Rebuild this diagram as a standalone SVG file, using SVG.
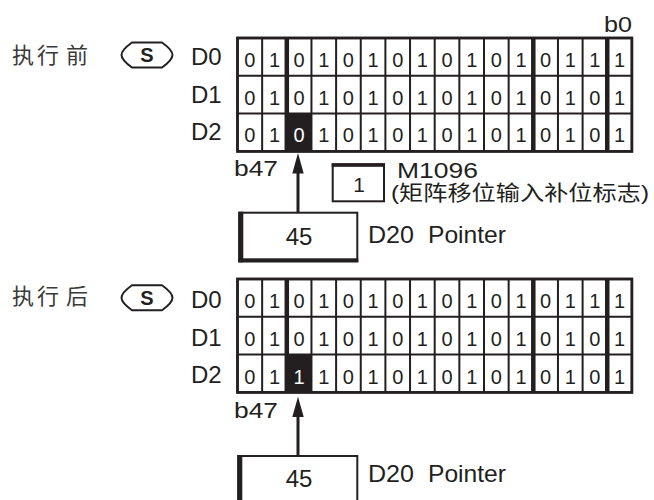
<svg xmlns="http://www.w3.org/2000/svg" width="654" height="500" viewBox="0 0 654 500">
<style>
.t{font-family:"Liberation Sans",Arial,"Noto Sans CJK SC",sans-serif;fill:#231f20}
.cjk{font-family:"Noto Sans CJK SC","Liberation Sans",sans-serif;fill:#3a3a3a;font-size:22px;text-anchor:middle}
.lbl{font-size:24px}
.dig{font-size:20px;text-anchor:middle}
.w{fill:#fff}
.thin{fill:none;stroke:#231f20;stroke-width:2}
.thick{fill:none;stroke:#231f20;stroke-width:4.5}
.outer{fill:#fff;stroke:#231f20;stroke-width:2.5}
.blk{fill:#231f20}
.sh{fill:#fff;stroke:#231f20;stroke-width:2}
.box{fill:#fff;stroke:#231f20;stroke-width:2}
.line{stroke:#231f20;stroke-width:3;fill:none}
.s{font-size:20px;font-weight:bold;text-anchor:middle}
</style>
<defs>
<path id="sshape" d="M132,42.5 H162 Q172.5,50 172.5,55 Q172.5,60 162,67.5 H132 Q121.5,60 121.5,55 Q121.5,50 132,42.5 Z"/>
</defs>

<!-- BEFORE -->
<g id="label-before"><text class="cjk" y="63"><tspan x="23">执</tspan><tspan x="48">行</tspan><tspan x="77">前</tspan></text></g>
<g id="s-before"><use href="#sshape" class="sh"/><text class="t s" x="147" y="62.3">S</text></g>
<g id="b0-label"><text class="t" x="604" y="31.7" font-size="22" textLength="28" lengthAdjust="spacingAndGlyphs">b0</text></g>

<g id="grid-before">
<rect class="outer" x="237.5" y="38" width="394.4" height="113.4"/>
<rect class="blk" x="286.8" y="113.6" width="24.65" height="37.8"/>
<path class="thin" d="M237.5,75.8H631.9M237.5,113.6H631.9M262.15,38V151.4M311.45,38V151.4M336.1,38V151.4M360.75,38V151.4M385.4,38V151.4M410.05,38V151.4M434.7,38V151.4M459.35,38V151.4M484,38V151.4M508.65,38V151.4M557.95,38V151.4M582.6,38V151.4"/>
<path class="thick" d="M286.8,38V151.4M533.3,38V151.4M607.25,38V151.4"/>
<rect x="237.5" y="38" width="394.4" height="113.4" fill="none" stroke="#231f20" stroke-width="2.5"/>
</g>
<g id="reg-D0-before"><text class="t lbl" x="191" y="64.5">D0</text>
<text class="t dig" y="66.7" x="249.8 274.5 299.1 323.8 348.4 373.1 397.7 422.4 447.0 471.7 496.3 521.0 545.6 570.3 594.9 619.6">0101010101010111</text></g>
<g id="reg-D1-before"><text class="t lbl" x="191" y="102.5">D1</text>
<text class="t dig" y="104.5" x="249.8 274.5 299.1 323.8 348.4 373.1 397.7 422.4 447.0 471.7 496.3 521.0 545.6 570.3 594.9 619.6">0101010101010101</text></g>
<g id="reg-D2-before"><text class="t lbl" x="191" y="140.3">D2</text>
<text class="t dig" y="142.3" x="249.8 274.5">01</text>
<text class="t dig w" x="299.1" y="142.3">0</text>
<text class="t dig" y="142.3" x="323.8 348.4 373.1 397.7 422.4 447.0 471.7 496.3 521.0 545.6 570.3 594.9 619.6">1010101010101</text></g>
<g id="b47-before"><text class="t" x="234" y="176" font-size="22" textLength="44" lengthAdjust="spacingAndGlyphs">b47</text></g>

<g id="m1096">
<rect class="box" x="332.7" y="164.3" width="51.3" height="37"/>
<rect class="blk" x="331.7" y="163.3" width="53.3" height="3.5"/>
<text class="t" x="359" y="192.3" font-size="21" text-anchor="middle">1</text>
<text class="t" x="397" y="177.5" font-size="22" textLength="81" lengthAdjust="spacingAndGlyphs">M1096</text>
<text class="t" x="391" y="200" font-size="21" textLength="258" lengthAdjust="spacingAndGlyphs">(矩阵移位输入补位标志)</text>
</g>

<g id="pointer-before">
<rect class="box" x="239.3" y="212.7" width="118" height="48.6"/>
<rect class="blk" x="238.3" y="211.7" width="5" height="50.6"/>
<rect class="blk" x="238.3" y="258.3" width="120" height="4"/>
<text class="t" x="299" y="245" font-size="24" text-anchor="middle">45</text>
<text class="t" x="368" y="243" font-size="24" textLength="46" lengthAdjust="spacingAndGlyphs">D20</text>
<text class="t" x="428" y="243" font-size="24" textLength="78" lengthAdjust="spacingAndGlyphs">Pointer</text>
</g>

<!-- AFTER -->
<g id="label-after"><text class="cjk" y="304"><tspan x="23">执</tspan><tspan x="48">行</tspan><tspan x="77">后</tspan></text></g>
<g id="s-after"><use href="#sshape" class="sh" transform="translate(0,242.7)"/><text class="t s" x="147" y="305">S</text></g>

<g id="grid-after">
<rect class="outer" x="237.5" y="279" width="394.4" height="113.4"/>
<rect class="blk" x="286.8" y="354.6" width="24.65" height="37.8"/>
<path class="thin" d="M237.5,316.8H631.9M237.5,354.6H631.9M262.15,279V392.4M311.45,279V392.4M336.1,279V392.4M360.75,279V392.4M385.4,279V392.4M410.05,279V392.4M434.7,279V392.4M459.35,279V392.4M484,279V392.4M508.65,279V392.4M557.95,279V392.4M582.6,279V392.4"/>
<path class="thick" d="M286.8,279V392.4M533.3,279V392.4M607.25,279V392.4"/>
<rect x="237.5" y="279" width="394.4" height="113.4" fill="none" stroke="#231f20" stroke-width="2.5"/>
</g>
<g id="reg-D0-after"><text class="t lbl" x="191" y="308">D0</text>
<text class="t dig" y="308.3" x="249.8 274.5 299.1 323.8 348.4 373.1 397.7 422.4 447.0 471.7 496.3 521.0 545.6 570.3 594.9 619.6">0101010101010111</text></g>
<g id="reg-D1-after"><text class="t lbl" x="191" y="346">D1</text>
<text class="t dig" y="346.1" x="249.8 274.5 299.1 323.8 348.4 373.1 397.7 422.4 447.0 471.7 496.3 521.0 545.6 570.3 594.9 619.6">0101010101010101</text></g>
<g id="reg-D2-after"><text class="t lbl" x="191" y="383">D2</text>
<text class="t dig" y="383.9" x="249.8 274.5">01</text>
<text class="t dig w" x="299.1" y="383.9">1</text>
<text class="t dig" y="383.9" x="323.8 348.4 373.1 397.7 422.4 447.0 471.7 496.3 521.0 545.6 570.3 594.9 619.6">1010101010101</text></g>
<g id="b47-after"><text class="t" x="234" y="418.3" font-size="22" textLength="44" lengthAdjust="spacingAndGlyphs">b47</text></g>

<g id="pointer-after">
<rect class="box" x="238.3" y="456" width="119" height="60"/>
<rect class="blk" x="237.3" y="455" width="5" height="50"/>
<text class="t" x="299" y="486.7" font-size="24" text-anchor="middle">45</text>
<text class="t" x="368" y="481.7" font-size="24" textLength="46" lengthAdjust="spacingAndGlyphs">D20</text>
<text class="t" x="428" y="481.7" font-size="24" textLength="78" lengthAdjust="spacingAndGlyphs">Pointer</text>
</g>

<g id="connectors">
<line class="line" x1="298" y1="172" x2="298" y2="212"/>
<polygon class="blk" points="298,153 292.3,173.5 303.7,173.5"/>
<line class="line" x1="298" y1="415" x2="298" y2="456"/>
<polygon class="blk" points="298,396.7 292.3,417 303.7,417"/>
</g>
</svg>
